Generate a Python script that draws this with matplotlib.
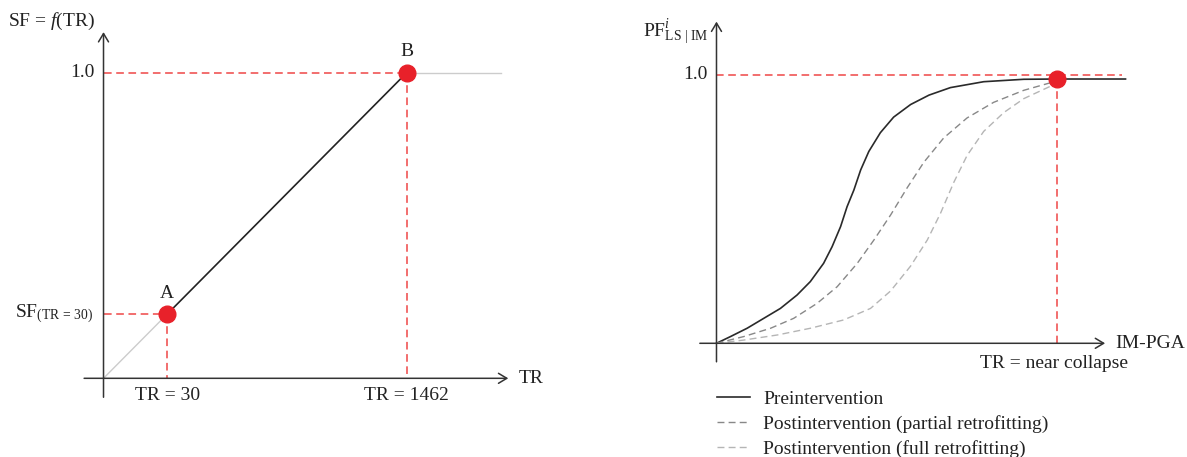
import matplotlib
matplotlib.use("Agg")
import matplotlib.pyplot as plt

plt.rcParams["font.family"] = ["Liberation Serif", "DejaVu Serif"]
plt.rcParams["mathtext.fontset"] = "custom"
plt.rcParams["mathtext.rm"] = "Liberation Serif"
plt.rcParams["mathtext.it"] = "Liberation Serif:italic"
plt.rcParams["mathtext.bf"] = "Liberation Serif:bold"

# left panel: schematic SF = f(TR)
pt_labels = ["A", "B"]
pt_tr_labels = ["TR = 30", "TR = 1462"]
pt_x = [0.21, 1.0]
pt_sf = [0.21, 1.0]
plateau_end_left = 1.31

# right panel: fragility curves (schematic)
pre_x = [0.0, 0.041, 0.090, 0.139, 0.188, 0.237, 0.276, 0.315, 0.340, 0.365, 0.384, 0.404,
         0.424, 0.448, 0.482, 0.521, 0.571, 0.625, 0.688, 0.786, 0.904, 1.0, 1.203]
pre_y = [0.0, 0.025, 0.056, 0.093, 0.130, 0.180, 0.230, 0.298, 0.360, 0.435, 0.509, 0.571,
         0.646, 0.715, 0.785, 0.843, 0.890, 0.925, 0.953, 0.975, 0.984, 0.985, 0.985]

partial_x = [0.0, 0.080, 0.159, 0.227, 0.296, 0.355, 0.414, 0.463, 0.512, 0.561, 0.610,
             0.668, 0.737, 0.815, 0.904, 0.982, 1.0]
partial_y = [0.0, 0.025, 0.056, 0.093, 0.149, 0.211, 0.298, 0.385, 0.478, 0.580, 0.675,
             0.765, 0.840, 0.898, 0.943, 0.971, 0.985]

full_x = [0.0, 0.080, 0.179, 0.276, 0.374, 0.453, 0.512, 0.571, 0.620, 0.659, 0.698,
          0.737, 0.786, 0.845, 0.904, 0.982, 1.0]
full_y = [0.0, 0.012, 0.031, 0.056, 0.087, 0.130, 0.195, 0.288, 0.385, 0.485, 0.600,
          0.700, 0.790, 0.860, 0.912, 0.958, 0.985]

collapse_x = 1.0
collapse_y = 0.985
legend_labels = ["Preintervention",
                 "Postintervention (partial retrofitting)",
                 "Postintervention (full retrofitting)"]

RED = "#ef4646"
DOT = "#e8212a"
AXC = "#333333"
TXT = "#222222"
FS = 14
red_dash = dict(color=RED, lw=1.1, linestyle=(0, (5, 3)))
arrow = dict(arrowstyle="->,head_length=0.5,head_width=0.3", lw=1.1, color=AXC,
             shrinkA=0, shrinkB=0, mutation_scale=12)

W, H = 1187, 457
fig = plt.figure(figsize=(W / 100, H / 100), dpi=100)

# ---- left panel ----
ax = fig.add_axes([0, 0, 593 / W, 1])
ax.set_xlim(-0.3414, 1.6144)
ax.set_ylim(-0.2575, 1.2379)
ax.axis("off")

ax.annotate("", xy=(0, 1.133), xytext=(0, -0.062), arrowprops=arrow)
ax.annotate("", xy=(1.335, 0), xytext=(-0.064, 0), arrowprops=arrow)
ax.text(1.368, 0, "TR", ha="left", va="center", fontsize=FS, color=TXT)
ax.text(-0.314, 1.167, r"SF = $\mathit{f}$(TR)", ha="left", va="center", fontsize=FS, color=TXT)
ax.text(-0.028, pt_sf[1], "1.0", ha="right", va="center", fontsize=FS, color=TXT)
ax.text(-0.034, pt_sf[0], r"SF$_{\mathrm{(TR\,=\,30)}}$", ha="right", va="center",
        fontsize=FS, color=TXT)

ax.plot([0, pt_x[0]], [0, pt_sf[0]], color="#cccccc", lw=1.0)
ax.plot([pt_x[1], plateau_end_left], [pt_sf[1], pt_sf[1]], color="#cccccc", lw=1.0)
ax.plot(pt_x, pt_sf, color="#222222", lw=1.2)
for x, y in zip(pt_x, pt_sf):
    ax.plot([0, x], [y, y], **red_dash)
    ax.plot([x, x], [y, 0], **red_dash)
ax.plot(pt_x, pt_sf, "o", color=DOT, ms=12, zorder=5)
for x, y, lab, trl in zip(pt_x, pt_sf, pt_labels, pt_tr_labels):
    ax.annotate(lab, (x, y), xytext=(0, 15), textcoords="offset points",
                ha="center", va="center", fontsize=FS, color=TXT)
    ax.text(x, -0.055, trl, ha="center", va="center", fontsize=FS, color=TXT)

# ---- right panel ----
ax2 = fig.add_axes([593 / W, 0, 594 / W, 1])
ax2.set_xlim(-0.3632, 1.3838)
ax2.set_ylim(-0.4238, 1.2795)
ax2.axis("off")

ax2.annotate("", xy=(0, 1.199), xytext=(0, -0.069), arrowprops=arrow)
ax2.annotate("", xy=(1.143, 0), xytext=(-0.049, 0), arrowprops=arrow)
ax2.text(1.172, 0, "IM-PGA", ha="left", va="center", fontsize=FS, color=TXT)
ax2.text(-0.025, 1.16, r"PF$^{\mathit{i}}_{\mathrm{LS\ |\ IM}}$", ha="right", va="center",
         fontsize=FS, color=TXT)
ax2.text(-0.025, 1.0, "1.0", ha="right", va="center", fontsize=FS, color=TXT)

ax2.plot([0, 1.193], [1.0, 1.0], **red_dash)
ax2.plot([collapse_x, collapse_x], [collapse_y, 0], **red_dash)

h_pre, = ax2.plot(pre_x, pre_y, color="#2a2a2a", lw=1.2)
h_par, = ax2.plot(partial_x, partial_y, color="#888888", lw=1.0, linestyle=(0, (5, 3)))
h_full, = ax2.plot(full_x, full_y, color="#b5b5b5", lw=1.0, linestyle=(0, (5, 3)))
ax2.plot([collapse_x], [collapse_y], "o", color=DOT, ms=12, zorder=5)
ax2.text(collapse_x - 0.007, -0.075, "TR = near collapse", ha="center", va="center",
         fontsize=FS, color=TXT)

fig.legend([h_pre, h_par, h_full], legend_labels, loc="upper left",
           bbox_to_anchor=(716.5 / W, 1 - 390 / H), frameon=False, borderpad=0,
           borderaxespad=0, handlelength=1.7, handletextpad=0.7, labelspacing=0.38,
           prop={"size": FS}, labelcolor=TXT)

fig.savefig("out.png", dpi=100, facecolor="white")
